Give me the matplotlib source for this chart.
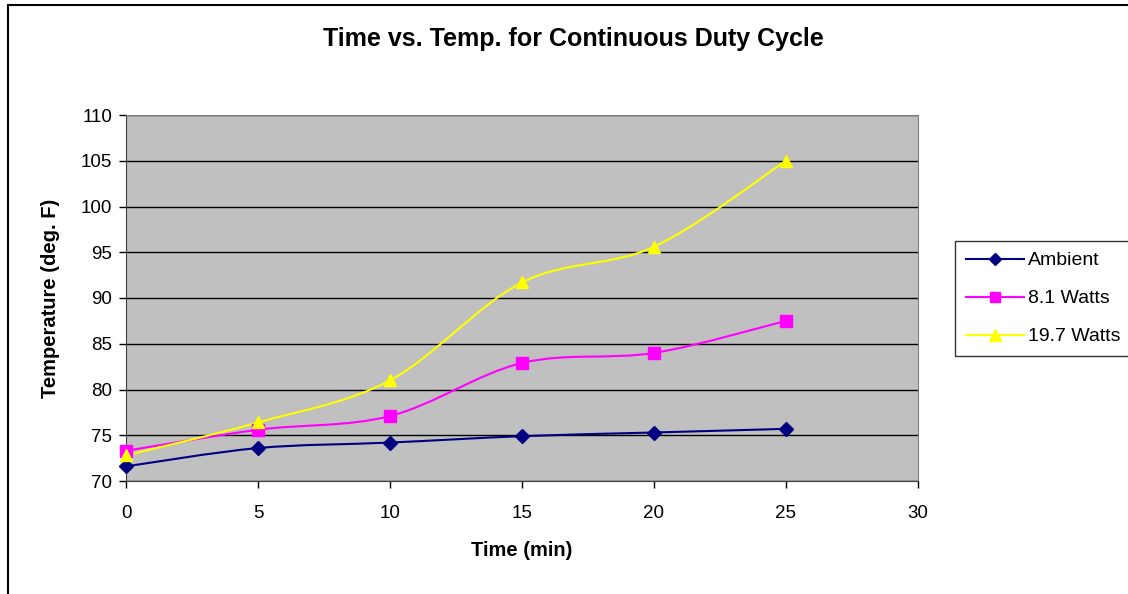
import numpy as np
import matplotlib.pyplot as plt
from matplotlib.path import Path
from matplotlib.patches import PathPatch, Rectangle
from matplotlib.lines import Line2D

plt.rcParams['font.family'] = ['Liberation Sans', 'DejaVu Sans']

# readings taken every 5 minutes
time_min = [0, 5, 10, 15, 20, 25]
ambient = [71.6, 73.6, 74.2, 74.9, 75.3, 75.7]
watts_8_1 = [73.3, 75.6, 77.1, 82.9, 84.0, 87.5]
watts_19_7 = [72.8, 76.4, 81.0, 91.7, 95.6, 105.0]

series = [
    ('Ambient', ambient, '#000080', 'D', 7),
    ('8.1 Watts', watts_8_1, '#FF00FF', 's', 8),
    ('19.7 Watts', watts_19_7, '#FFFF00', '^', 9),
]


def smooth_path(x, y):
    # Excel-style smoothed line: cubic bezier through every point
    pts = np.column_stack([x, y]).astype(float)
    n = len(pts)
    verts = [pts[0]]
    codes = [Path.MOVETO]
    for i in range(n - 1):
        p0 = pts[i - 1] if i > 0 else pts[i]
        p1 = pts[i]
        p2 = pts[i + 1]
        p3 = pts[i + 2] if i + 2 < n else pts[i + 1]
        c1 = p1 + (p2 - p0) / 6.0
        c2 = p2 - (p3 - p1) / 6.0
        verts += [c1, c2, p2]
        codes += [Path.CURVE4] * 3
    return Path(verts, codes)


fig = plt.figure(figsize=(11.28, 5.94), dpi=100)
ax = fig.add_axes([126 / 1128, 113 / 594, 792 / 1128, 366 / 594])
ax.set_facecolor('#C0C0C0')

for name, vals, color, marker, ms in series:
    ax.add_patch(PathPatch(smooth_path(time_min, vals), facecolor='none',
                           edgecolor=color, lw=1.5, zorder=3))
    ax.plot(time_min, vals, linestyle='none', marker=marker, ms=ms,
            color=color, markeredgecolor=color, zorder=4, clip_on=False)

ax.set_xlim(0, 30)
ax.set_ylim(70, 110)
ax.set_xticks(range(0, 31, 5))
ax.set_yticks(range(70, 111, 5))
ax.yaxis.grid(True, color='black', lw=1)
ax.set_axisbelow(True)
ax.tick_params(direction='out', length=5, width=1, labelsize=13.5)
ax.tick_params(axis='x', pad=12)
ax.tick_params(axis='y', pad=5)
for s in ['top', 'right']:
    ax.spines[s].set_color('#808080')
for s in ['left', 'bottom']:
    ax.spines[s].set_color('#404040')

ax.set_xlabel('Time (min)', fontsize=14.5, fontweight='bold', labelpad=14)
ax.set_ylabel('Temperature (deg. F)', fontsize=14.5, fontweight='bold', labelpad=15)
fig.text(573 / 1128, 1 - 39 / 594, 'Time vs. Temp. for Continuous Duty Cycle',
         ha='center', va='center', fontsize=18, fontweight='bold')

handles = [Line2D([], [], color=c, marker=m, ms=ms * 0.9, lw=1.5,
                  markeredgecolor=c) for _, _, c, m, ms in series]
leg = fig.legend(handles, [s[0] for s in series], loc='upper left',
                 bbox_to_anchor=(955 / 1128, 1 - 241 / 594), fontsize=14,
                 frameon=True, fancybox=False, borderpad=0.55,
                 borderaxespad=0, handlelength=3.0, labelspacing=1.05,
                 handletextpad=0.2)
leg.get_frame().set_edgecolor('black')
leg.get_frame().set_linewidth(1)

# chart border
fig.patches.append(Rectangle((8 / 1128, -0.1), 1.2, 1 - 5 / 594 + 0.1,
                             transform=fig.transFigure, fill=False,
                             edgecolor='black', lw=1.5))

fig.savefig('out.png', dpi=100)
